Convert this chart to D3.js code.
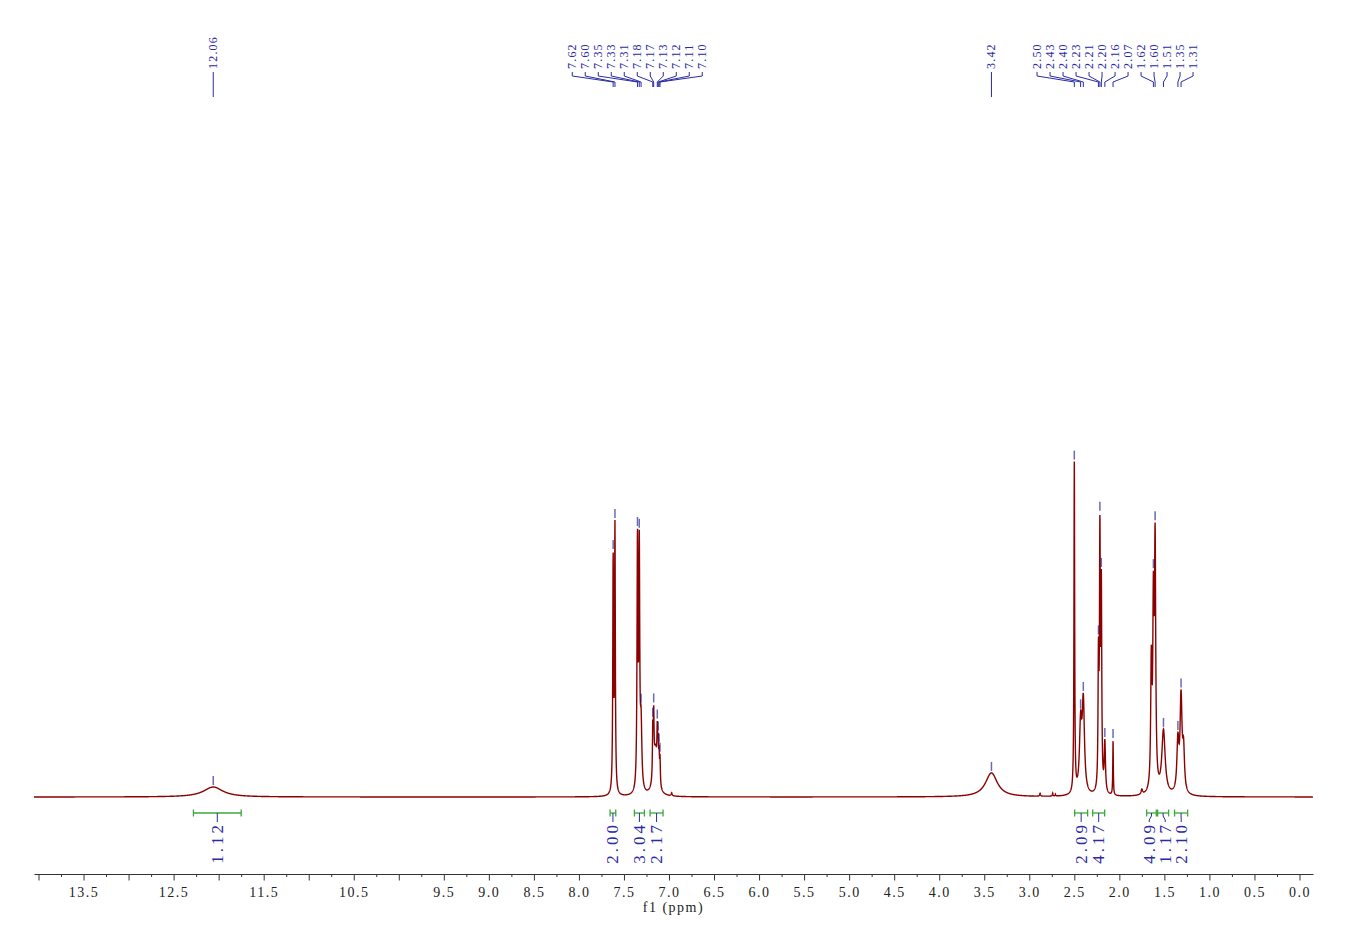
<!DOCTYPE html>
<head>
  <title>1H NMR spectrum</title>
  <style>
    body { margin: 0; background: #fff; }
    text { font-family: "Liberation Serif", "DejaVu Serif", serif; }
  </style>
</head>
<body>
<script src="https://cdn.jsdelivr.net/npm/d3@7/dist/d3.min.js"></script>
<script>
  // peaks: shift (ppm), height (intensity), half width (ppm), label
  var peakPpm    = [12.06, 7.62, 7.60, 7.35, 7.33, 7.31, 7.15, 7.18, 7.17, 7.13, 7.12, 7.11, 7.10, 6.97,
                    3.42, 2.88, 2.74, 2.71, 2.50, 2.43, 2.40, 2.232, 2.216, 2.20, 2.161, 2.07,
                    1.75, 1.645, 1.622, 1.603, 1.51, 1.35, 1.315, 1.287];
  var peakHeight = [10, 230, 263, 245, 233, 64, 45, 48, 55, 40, 32, 27, 26, 3,
                    24, 3, 3, 2, 330, 66, 89, 126, 248, 195, 50, 55,
                    5, 123, 174, 240, 64, 50, 94, 40];
  var peakWidth  = [0.13, 0.005, 0.005, 0.006, 0.006, 0.01, 0.025, 0.0045, 0.0045, 0.0045, 0.0045, 0.0045, 0.0045, 0.006,
                    0.08, 0.005, 0.004, 0.004, 0.0045, 0.015, 0.015, 0.0055, 0.0055, 0.0055, 0.008, 0.0035,
                    0.01, 0.008, 0.008, 0.008, 0.022, 0.013, 0.013, 0.012];
  var peakLabel  = ["12.06", "7.62", "7.60", "7.35", "7.33", "7.31", "", "7.18", "7.17", "7.13", "7.12", "7.11", "7.10", "",
                    "3.42", "", "", "", "2.50", "2.43", "2.40", "2.23", "2.21", "2.20", "2.16", "2.07",
                    "", "", "1.62", "1.60", "1.51", "1.35", "1.31", ""];

  // integrals
  var intFrom  = [12.28, 7.654, 7.384, 7.21, 2.496, 2.296, 1.697, 1.575, 1.387];
  var intTo    = [11.75, 7.591, 7.273, 7.066, 2.352, 2.163, 1.59, 1.453, 1.242];
  var intValue = ["1.12", "2.00", "3.04", "2.17", "2.09", "4.17", "4.09", "1.17", "2.10"];

  // axis
  var tickLabels = [13.5, 12.5, 11.5, 10.5, 9.5, 9.0, 8.5, 8.0, 7.5, 7.0, 6.5, 6.0, 5.5, 5.0,
                    4.5, 4.0, 3.5, 3.0, 2.5, 2.0, 1.5, 1.0, 0.5, 0.0];
  var ppmMax = 14.05, ppmMin = -0.15;

  var svg_width = 1348, svg_height = 952;
  var plot_left = 34, plot_right = 1313;
  var base_y = 797, axis_y = 874;
  var blue = "#2a2aa5", green = "#3aa83a", red = "#8b0000";

  var svg = d3.select("body").append("svg")
      .attr("width", svg_width)
      .attr("height", svg_height);

  var x = d3.scaleLinear().domain([ppmMax, ppmMin]).range([plot_left, plot_right]);
  var y = d3.scaleLinear().domain([0, 334]).range([base_y, base_y - 334]);

  // sum of lorentzian lines
  function intensity(p) {
    var s = 0;
    for (var i = 0; i < peakPpm.length; i++) {
      var d = (p - peakPpm[i]) / peakWidth[i];
      s += peakHeight[i] / (1 + d * d);
    }
    return s;
  }

  var pts = d3.range(ppmMax, ppmMin, -0.0015).map(function(p) { return [p, intensity(p)]; });
  var line = d3.line()
      .x(function(d) { return x(d[0]); })
      .y(function(d) { return y(d[1]); });

  svg.append("path")
      .attr("d", line(pts))
      .attr("fill", "none")
      .attr("stroke", red)
      .attr("stroke-width", 1.4);

  // spread labels so they don't overlap, cluster centred on mean of targets
  function spread(targets, gap, shift) {
    var cl = targets.map(function(t, i) { return { idx: [i], sum: t }; });
    var changed = true;
    while (changed) {
      changed = false;
      for (var i = 0; i < cl.length - 1; i++) {
        var a = cl[i], b = cl[i + 1];
        var aEnd = a.sum / a.idx.length + (a.idx.length - 1) * gap / 2;
        var bStart = b.sum / b.idx.length - (b.idx.length - 1) * gap / 2;
        if (bStart - aEnd < gap) {
          cl.splice(i, 2, { idx: a.idx.concat(b.idx), sum: a.sum + b.sum });
          changed = true;
          break;
        }
      }
    }
    var out = [];
    cl.forEach(function(c) {
      var n = c.idx.length;
      var c0 = c.sum / n + (n > 1 ? shift : 0);
      c.idx.forEach(function(k, j) { out[k] = c0 + (j - (n - 1) / 2) * gap; });
    });
    return out;
  }

  // peak picking marks + top labels
  var picked = [];
  peakLabel.forEach(function(l, i) { if (l) picked.push(i); });
  picked.sort(function(a, b) { return peakPpm[b] - peakPpm[a]; });

  var peakX = picked.map(function(i) { return x(peakPpm[i]); });
  var labelX = spread(peakX, 13, -7);

  picked.forEach(function(i, k) {
    var top = 0;
    for (var p = peakPpm[i] - 0.004; p <= peakPpm[i] + 0.004; p += 0.0005) top = Math.max(top, intensity(p));
    var ty = y(top);
    svg.append("line")
        .attr("x1", peakX[k]).attr("x2", peakX[k])
        .attr("y1", ty - 11).attr("y2", ty - 2)
        .attr("stroke", "#1c1c8c").attr("stroke-opacity", 0.65).attr("stroke-width", 1.5);

    var lx = labelX[k], px = peakX[k];
    var pts2 = Math.abs(lx - px) < 0.5 ? [[lx, 72], [lx, 97]] : [[lx, 72], [lx, 76], [px, 82], [px, 87]];
    svg.append("path")
        .attr("d", d3.line()(pts2))
        .attr("fill", "none").attr("stroke", blue).attr("stroke-width", 1);

    svg.append("text")
        .attr("transform", "translate(" + lx + ",69) rotate(-90)")
        .attr("dominant-baseline", "central")
        .attr("font-size", 12)
        .attr("letter-spacing", 1.2)
        .attr("fill", blue)
        .text(peakLabel[i]);
  });

  // integrals
  var intX = intFrom.map(function(f, i) { return (x(f) + x(intTo[i])) / 2; });
  var intLabelX = spread(intX, 16, 0);
  var bar_y = 813;
  intValue.forEach(function(v, i) {
    var x1 = x(intFrom[i]), x2 = x(intTo[i]);
    var g = svg.append("g").attr("stroke", green).attr("stroke-width", 1.3);
    g.append("line").attr("x1", x1).attr("x2", x2).attr("y1", bar_y).attr("y2", bar_y);
    g.append("line").attr("x1", x1).attr("x2", x1).attr("y1", bar_y - 3.5).attr("y2", bar_y + 3.5);
    g.append("line").attr("x1", x2).attr("x2", x2).attr("y1", bar_y - 3.5).attr("y2", bar_y + 3.5);

    var cx = intX[i], lx = intLabelX[i];
    svg.append("path")
        .attr("d", d3.line()([[cx, bar_y], [cx, bar_y + 3], [lx, bar_y + 7], [lx, bar_y + 9]]))
        .attr("fill", "none").attr("stroke", blue).attr("stroke-width", 1);

    svg.append("text")
        .attr("transform", "translate(" + lx + "," + (bar_y + 9) + ") rotate(-90)")
        .attr("text-anchor", "end")
        .attr("dominant-baseline", "central")
        .attr("font-size", 17)
        .attr("letter-spacing", 3)
        .attr("fill", blue)
        .text(v);
  });

  // x axis: major ticks every 0.5, minor every 0.25
  var major = d3.range(14, -0.01, -0.5);
  var minor = d3.range(13.75, 0, -0.5);

  var xAxis = d3.axisBottom(x)
      .tickValues(major)
      .tickSize(6.5)
      .tickSizeOuter(0)
      .tickPadding(7)
      .tickFormat(function(d) {
        return tickLabels.some(function(t) { return Math.abs(t - d) < 1e-6; }) ? d3.format(".1f")(d) : "";
      });

  var gx = svg.append("g")
      .attr("transform", "translate(0," + axis_y + ")")
      .call(xAxis);
  gx.select(".domain").attr("stroke", "#333").attr("stroke-width", 1.2);
  gx.selectAll(".tick line").attr("stroke", "#333");
  gx.selectAll("text")
      .attr("font-family", "Liberation Serif, DejaVu Serif, serif")
      .attr("font-size", 14)
      .attr("letter-spacing", 1.5)
      .attr("fill", "#222");

  var gm = svg.append("g")
      .attr("transform", "translate(0," + axis_y + ")")
      .call(d3.axisBottom(x).tickValues(minor).tickSize(3).tickSizeOuter(0).tickFormat(""));
  gm.select(".domain").remove();
  gm.selectAll(".tick line").attr("stroke", "#333");

  svg.append("text")
      .attr("x", (plot_left + plot_right) / 2)
      .attr("y", 912)
      .attr("text-anchor", "middle")
      .attr("font-size", 14)
      .attr("letter-spacing", 1.5)
      .attr("fill", "#222")
      .text("f1 (ppm)");
</script>
</body>
